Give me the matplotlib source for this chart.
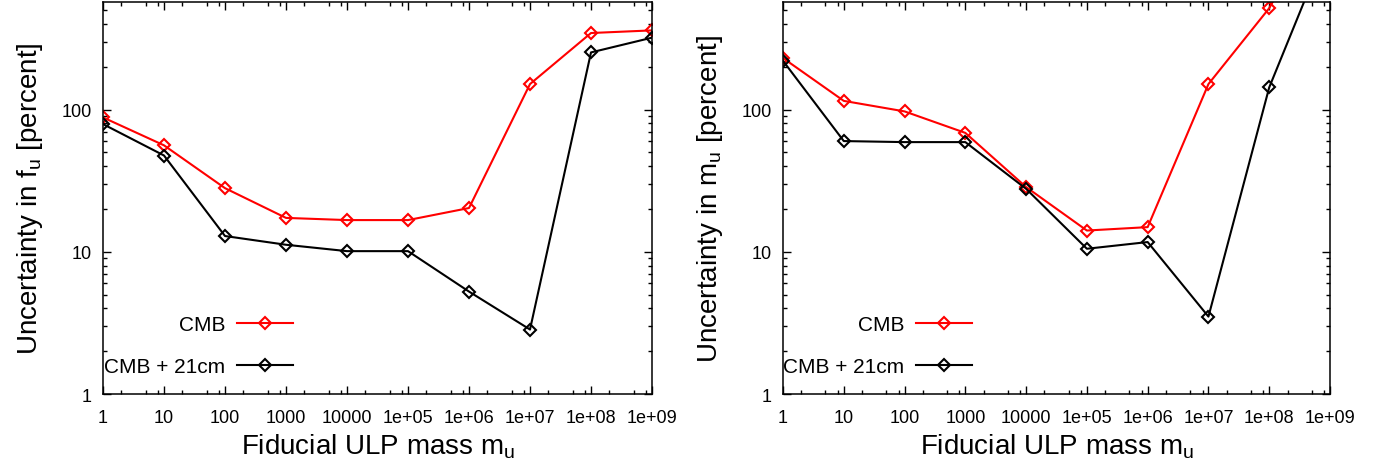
import matplotlib
matplotlib.use("Agg")
import matplotlib.pyplot as plt
from matplotlib.ticker import LogLocator, NullFormatter, FixedLocator, FixedFormatter

plt.rcParams['font.family'] = ['Liberation Sans', 'DejaVu Sans']
plt.rcParams['mathtext.fontset'] = 'custom'
plt.rcParams['mathtext.rm'] = 'Liberation Sans'
plt.rcParams['mathtext.it'] = 'Liberation Sans'

# fiducial ULP masses
mass = [1, 10, 100, 1000, 1e4, 1e5, 1e6, 1e7, 1e8, 1e9]
xtick_labels = ['1', '10', '100', '1000', '10000', '1e+05', '1e+06', '1e+07', '1e+08', '1e+09']

# uncertainty in f_u [percent]
fu_cmb = [88, 56, 28, 17.3, 16.7, 16.7, 20.3, 151, 345, 360]
fu_cmb21 = [79, 47.5, 12.9, 11.2, 10.1, 10.1, 5.25, 2.84, 252, 320]

# uncertainty in m_u [percent]
mu_cmb = [230, 115, 97, 68.5, 28.5, 14.1, 14.9, 151, 516, 3000]
mu_cmb21 = [220, 60, 59, 59, 27.7, 10.5, 11.7, 3.5, 143, 1600]

fig = plt.figure(figsize=(13.83, 4.64), dpi=100)
ax1 = fig.add_axes([103/1383, 1-395/464, 549/1383, 392/464])
ax2 = fig.add_axes([783/1383, 1-395/464, 547/1383, 392/464])

panels = [(ax1, fu_cmb, fu_cmb21, r'Uncertainty in f$_\mathrm{u}$ [percent]'),
          (ax2, mu_cmb, mu_cmb21, r'Uncertainty in m$_\mathrm{u}$ [percent]')]

for ax, cmb, cmb21, ylab in panels:
    ax.plot(mass, cmb, color='#ff0000', lw=1.5, marker='D', ms=6,
            mfc='none', mec='#ff0000', mew=1.5, label='CMB')
    ax.plot(mass, cmb21, color='black', lw=1.5, marker='D', ms=6,
            mfc='none', mec='black', mew=1.5, label='CMB + 21cm')
    ax.set_xscale('log')
    ax.set_yscale('log')
    ax.set_xlim(1, 1e9)
    ax.set_ylim(1, 570)

    ax.xaxis.set_major_locator(FixedLocator(mass))
    ax.xaxis.set_major_formatter(FixedFormatter(xtick_labels))
    ax.xaxis.set_minor_locator(LogLocator(base=10, subs=(2, 5, 8), numticks=20))
    ax.xaxis.set_minor_formatter(NullFormatter())
    ax.yaxis.set_major_locator(FixedLocator([1, 10, 100]))
    ax.yaxis.set_major_formatter(FixedFormatter(['1', '10', '100']))
    ax.yaxis.set_minor_locator(LogLocator(base=10, subs=range(2, 10), numticks=20))
    ax.yaxis.set_minor_formatter(NullFormatter())

    ax.tick_params(which='both', direction='in', top=True, right=True, width=1)
    ax.tick_params(which='major', length=6, labelsize=13)
    ax.tick_params(axis='x', which='major', pad=11)
    ax.tick_params(axis='y', which='major', pad=8)
    ax.tick_params(which='minor', length=3)
    for s in ax.spines.values():
        s.set_linewidth(1.1)

    ax.set_xlabel(r'Fiducial ULP mass m$_\mathrm{u}$', fontsize=20, labelpad=4)
    ax.set_ylabel(ylab, fontsize=20, labelpad=12)

    ax.legend(loc='lower right', bbox_to_anchor=(0.346, 0.046), frameon=False,
              markerfirst=False, numpoints=1, fontsize=15, handlelength=2.7,
              handletextpad=0.55, labelspacing=1.1, borderpad=0, borderaxespad=0)

fig.savefig('out.png', dpi=100)
